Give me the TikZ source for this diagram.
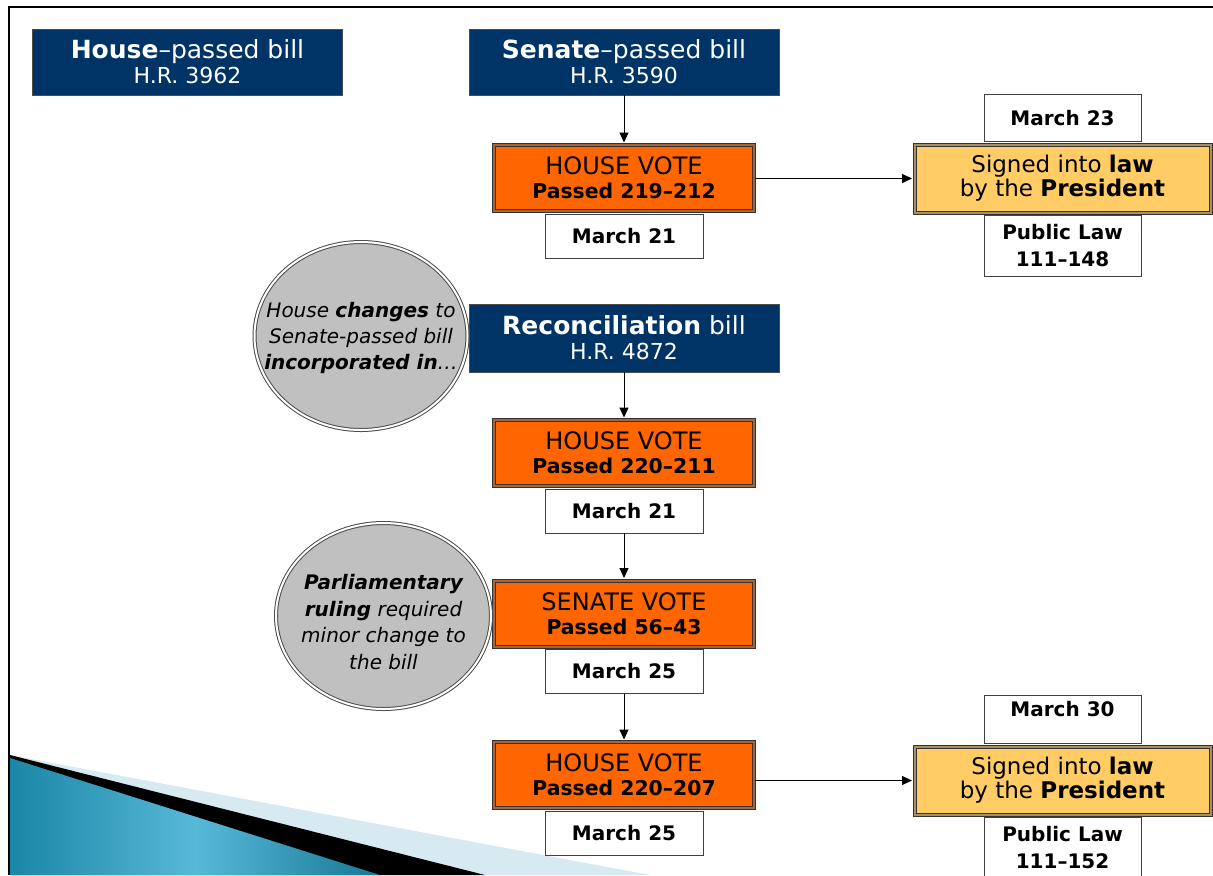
\documentclass[tikz,border=0pt]{standalone}
\usepackage{fontspec}
\setmainfont{DejaVu Sans}
\usetikzlibrary{positioning,shapes.geometric,arrows.meta}
\definecolor{billblue}{HTML}{003366}
\definecolor{voteorange}{HTML}{FF6600}
\definecolor{voterim}{HTML}{A8643A}
\definecolor{lawgold}{HTML}{FFCC66}
\definecolor{lawrim}{HTML}{A89060}
\definecolor{notegray}{HTML}{C0C0C0}
\definecolor{tealdark}{HTML}{1A86A6}
\definecolor{teallight}{HTML}{58B8D8}
\definecolor{skystrip}{HTML}{D8EAF1}
\tikzset{
  bill/.style={draw=black!70,fill=billblue,text=white,minimum width=155pt,minimum height=33pt,
    align=center,inner sep=0pt,font=\fontsize{12.5}{12.5}\selectfont},
  vote/.style={draw=black!80,double=voterim,double distance=1pt,line width=0.5pt,fill=voteorange,
    minimum width=130pt,minimum height=33pt,align=center,inner sep=0pt,font=\fontsize{12}{12}\selectfont},
  law/.style={vote,double=lawrim,fill=lawgold,minimum width=148pt,minimum height=34pt,
    font=\fontsize{11.5}{12}\selectfont},
  datebox/.style={draw=black!75,fill=white,minimum width=79pt,minimum height=22pt,align=center,
    inner sep=0pt,font=\bfseries\fontsize{10}{13.5}\selectfont},
  note/.style={ellipse,draw=black!70,double=white,double distance=1pt,line width=0.5pt,fill=notegray,inner sep=0pt},
  notetext/.style={align=center,font=\itshape\fontsize{10}{13.2}\selectfont},
  flow/.style={-{Triangle[length=5pt,width=4.5pt]},line width=0.5pt,shorten >=1pt}
}
\newcommand{\passline}[1]{{\bfseries\fontsize{10.2}{12}\selectfont Passed #1}}
\newcommand{\hrline}[1]{{\fontsize{11}{12.5}\selectfont H.R. #1}}
\begin{document}
\begin{tikzpicture}[x=0.5pt,y=-0.5pt]
\useasboundingbox (0,0) rectangle (1213,875);
\fill[skystrip] (10,755) -- (650,875) -- (10,875) -- cycle;
\fill (10,755) -- (485,875) -- (10,875) -- cycle;
\shade[left color=tealdark,right color=tealdark!90!black,middle color=teallight] (10,758) -- (380,875) -- (10,875) -- cycle;
\draw[line width=1pt] (9,875) -- (9,7) -- (1213,7);

\node[bill] (hbill) at (187.5,62) {\textbf{House}--passed bill\\\hrline{3962}};
\node[bill] (sbill) at (624,62) {\textbf{Senate}--passed bill\\\hrline{3590}};
\node[vote] (hvote) at (624,178) {HOUSE VOTE\\\passline{219--212}};
\node[datebox,below=1pt of hvote] (hdate) {March 21};
\node[law] (sign) at (1062.5,178.5) {Signed into \textbf{law}\\by the \textbf{President}};
\node[datebox,minimum width=78.5pt,minimum height=23.5pt,above=1pt of sign] (sdate) {March 23};
\node[datebox,minimum width=78.5pt,minimum height=30.5pt,below=1pt of sign] (plaw) {Public Law\\111--148};

\node[note,minimum width=106.5pt,minimum height=94pt] (chg) at (361,336) {};
\node[notetext] (chgtext) at (361,338) {House \textbf{changes} to\\Senate-passed bill\\\textbf{incorporated in}\ldots};
\node[bill,minimum height=34pt] (rbill) at (624,338) {\textbf{Reconciliation} bill\\\hrline{4872}};
\node[vote] (rvote) at (624,453) {HOUSE VOTE\\\passline{220--211}};
\node[datebox,below=1pt of rvote] (rdate) {March 21};
\node[vote] (svote) at (624,613.5) {SENATE VOTE\\\passline{56--43}};
\node[datebox,below=1pt of svote] (svdate) {March 25};
\node[note,minimum width=107.5pt,minimum height=93pt] (rule) at (383.5,616) {};
\node[notetext] (ruletext) at (383.5,622) {\textbf{Parliamentary}\\\textbf{ruling} required\\minor change to\\the bill};
\node[vote] (fvote) at (624,775) {HOUSE VOTE\\\passline{220--207}};
\node[datebox,below=1pt of fvote] (fdate) {March 25};
\node[law] (fsign) at (1062.5,780.5) {Signed into \textbf{law}\\by the \textbf{President}};
\node[datebox,minimum width=78.5pt,minimum height=0pt,text height=10.5pt,text depth=13.5pt,above=1pt of fsign] (fsdate) {March 30};
\node[datebox,minimum width=78.5pt,minimum height=30.5pt,below=1pt of fsign] (fplaw) {Public Law\\111--152};

\draw[flow] (sbill) -- (hvote);
\draw[flow] (hvote.east |- sign.west) -- (sign.west);
\draw[flow] (rbill) -- (rvote);
\draw[flow] (rdate) -- (svote);
\draw[flow] (svdate) -- (fvote);
\draw[flow] (fvote.east |- fsign.west) -- (fsign.west);
\end{tikzpicture}
\end{document}
